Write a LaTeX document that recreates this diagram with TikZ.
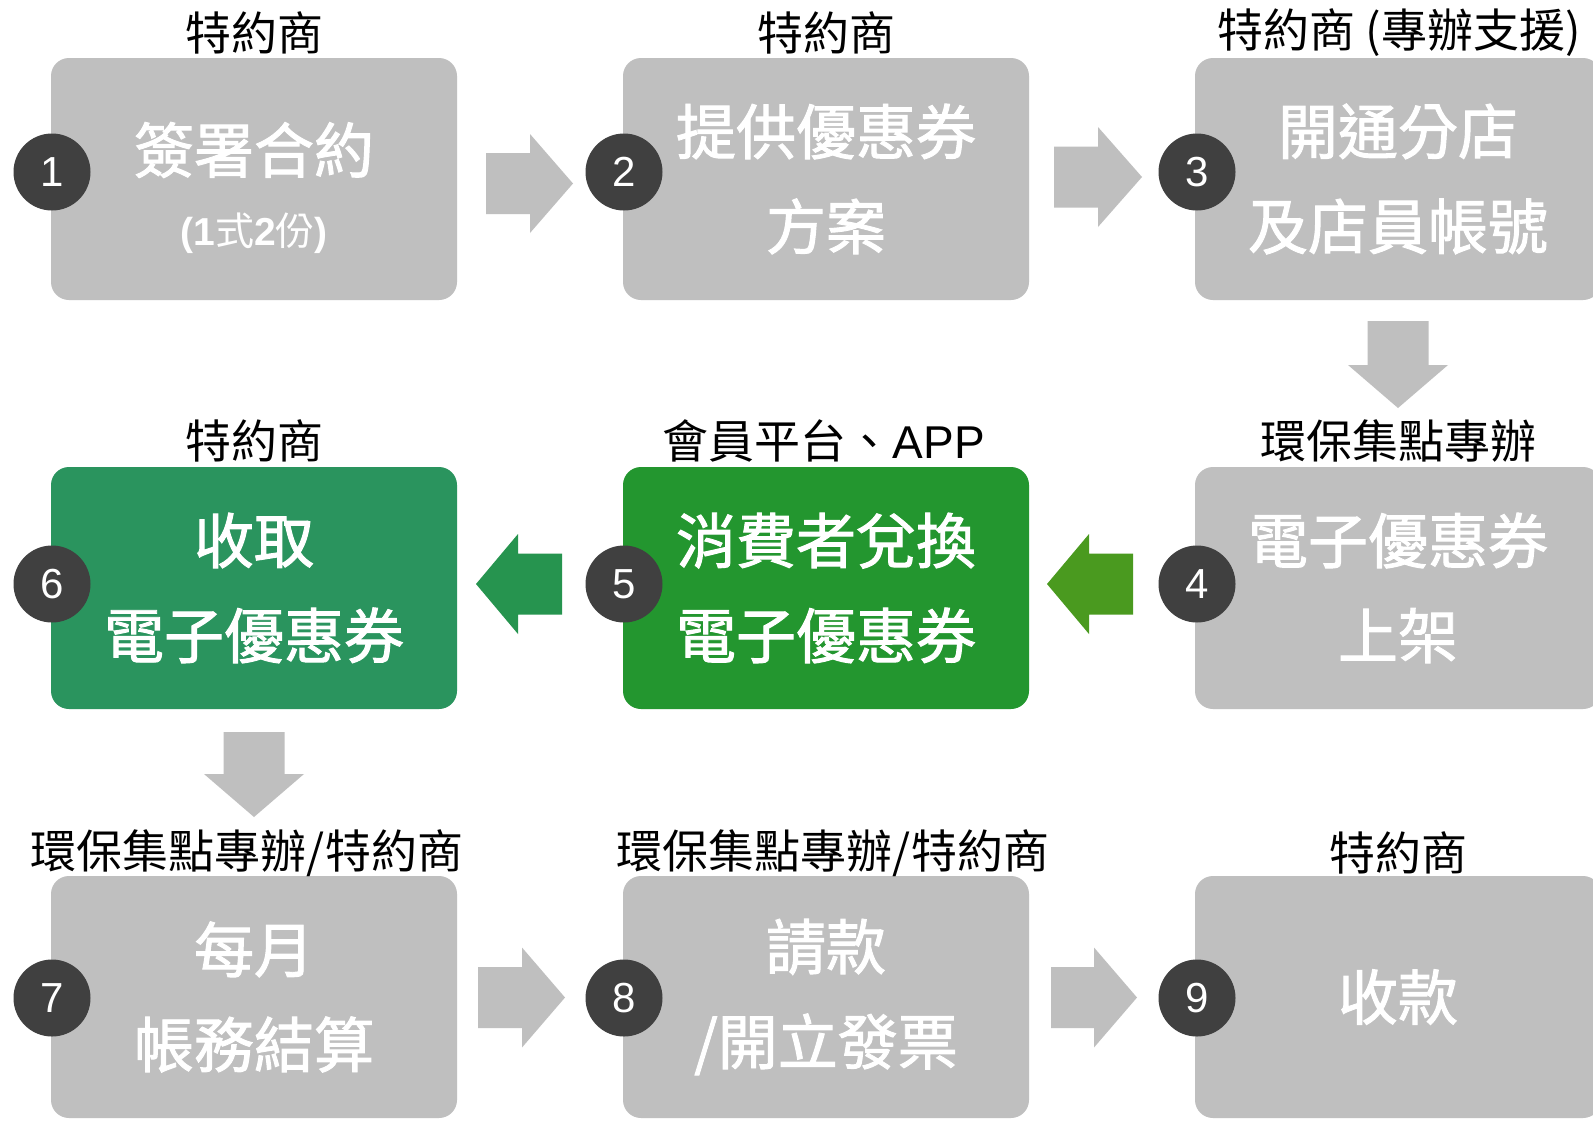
\documentclass[tikz,border=0pt]{standalone}
\usepackage{fontspec}
\setmainfont{Liberation Sans}
\newfontfamily\cjk{Noto Sans CJK TC}
\newfontfamily\cjkbold[FakeBold=1.6]{Noto Sans CJK TC}
\newfontfamily\arial{Liberation Sans}
\definecolor{boxgray}{HTML}{BFBFBF}
\definecolor{numdark}{HTML}{404040}
\definecolor{greenA}{HTML}{2A945E}
\definecolor{greenAarrow}{HTML}{26944F}
\definecolor{greenB}{HTML}{23962F}
\definecolor{greenBarrow}{HTML}{4A9A1F}
\begin{document}
\begin{tikzpicture}[x=1pt,y=-1pt,
  box/.style={rectangle, rounded corners=18pt, minimum width=406pt, minimum height=242pt,
    inner sep=0pt, align=center, text=white, font=\cjkbold\fontsize{60}{95}\selectfont},
  graybox/.style={box, fill=boxgray},
  numcirc/.style={circle, fill=numdark, minimum size=77pt, inner sep=0pt, text=white,
    font=\arial\fontsize{42}{42}\selectfont},
  lab/.style={inner sep=0pt, text=black, font=\cjk\fontsize{46}{46}\selectfont},
  inbox/.style={inner sep=0pt, align=center, text=white, font=\cjkbold\fontsize{60}{95}\selectfont},
  grayarrow/.style={fill=boxgray}
]
\fill[white] (0,0) rectangle (1593,1120);
\useasboundingbox (0,0) rectangle (1593,1120);

% boxes
\node[graybox] (b1) at (254,179) {};
\node[graybox] (b2) at (826,179) {提供優惠券\\方案};
\node[graybox] (b3) at (1398,179) {開通分店\\及店員帳號};
\node[box, fill=greenA] (b6) at (254,588) {收取\\電子優惠券};
\node[box, fill=greenB] (b5) at (826,588) {消費者兌換\\電子優惠券};
\node[graybox] (b4) at (1398,588) {電子優惠券\\上架};
\node[graybox] (b7) at (254,997) {每月\\帳務結算};
\node[graybox] (b8) at (826,997) {請款\\/開立發票};
\node[graybox] (b9) at (1398,997) {收款};

\node[inbox] (t1) at (254,188) {簽署合約\\[-22pt]{\fontsize{39}{39}\selectfont{\arial\bfseries (1}{\cjk 式}{\arial\bfseries 2}{\cjk 份}{\arial\bfseries )}}};

% number circles
\node[numcirc] (n1) at (52,172) {1};
\node[numcirc] (n2) at (624,172) {2};
\node[numcirc] (n3) at (1197,172) {3};
\node[numcirc] (n4) at (1197,584) {4};
\node[numcirc] (n5) at (624,584) {5};
\node[numcirc] (n6) at (52,584) {6};
\node[numcirc] (n7) at (52,998) {7};
\node[numcirc] (n8) at (624,998) {8};
\node[numcirc] (n9) at (1197,998) {9};

% labels
\node[lab] (l1) at (254,33) {特約商};
\node[lab] (l2) at (826,33) {特約商};
\node[lab] (l3) at (1399,33) {特約商 (專辦支援)};
\node[lab] (l6) at (254,441) {特約商};
\node[lab] (l5) at (824,441) {會員平台、{\arial APP}};
\node[lab] (l4) at (1398,441) {環保集點專辦};
\node[lab] (l7) at (247,853) {環保集點專辦/特約商};
\node[lab] (l8) at (833,853) {環保集點專辦/特約商};
\node[lab] (l9) at (1398,853) {特約商};

% block arrows
\fill[grayarrow] (486,153) -- (530,153) -- (530,134) -- (573,183.5) -- (530,233) -- (530,214) -- (486,214) -- cycle;
\fill[grayarrow] (1054,146.5) -- (1098,146.5) -- (1098,127) -- (1142,177) -- (1098,227) -- (1098,207.5) -- (1054,207.5) -- cycle;
\fill[grayarrow] (1367.5,321) -- (1428.5,321) -- (1428.5,365) -- (1448,365) -- (1398,408) -- (1348,365) -- (1367.5,365) -- cycle;
\fill[greenBarrow] (1133,553.5) -- (1089,553.5) -- (1089,534) -- (1047,584) -- (1089,634) -- (1089,614.5) -- (1133,614.5) -- cycle;
\fill[greenAarrow] (562,553.5) -- (518,553.5) -- (518,534) -- (476,584) -- (518,634) -- (518,614.5) -- (562,614.5) -- cycle;
\fill[grayarrow] (223.5,732) -- (284.5,732) -- (284.5,774) -- (304,774) -- (254,817) -- (204,774) -- (223.5,774) -- cycle;
\fill[grayarrow] (478,967) -- (522,967) -- (522,947.5) -- (565,997.5) -- (522,1047.5) -- (522,1028) -- (478,1028) -- cycle;
\fill[grayarrow] (1051,967) -- (1094,967) -- (1094,947.5) -- (1137,997.5) -- (1094,1047.5) -- (1094,1028) -- (1051,1028) -- cycle;
\end{tikzpicture}
\end{document}
